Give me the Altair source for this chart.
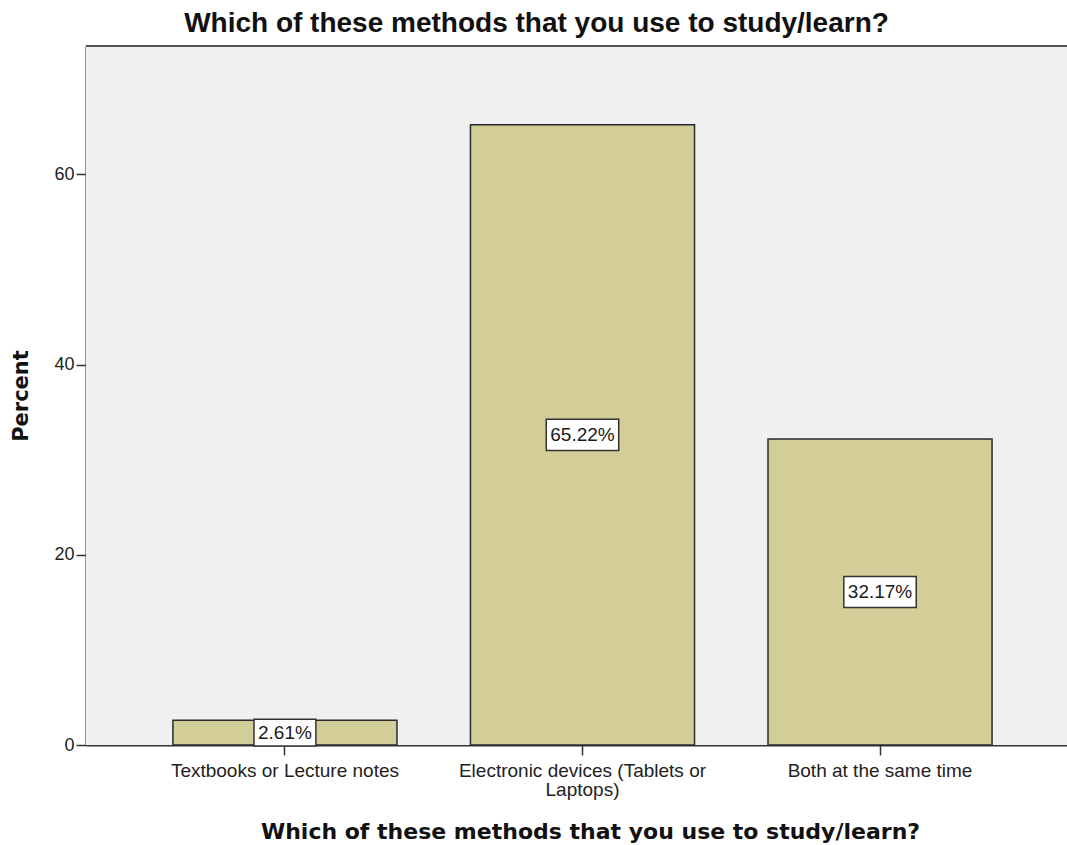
import altair as alt
import pandas as pd

categories = ["Textbooks or Lecture notes", "Electronic devices (Tablets or Laptops)", "Both at the same time"]
percents = [2.61, 65.22, 32.17]
y_ticks = [0, 20, 40, 60]

df = pd.DataFrame({"method": categories, "pct": percents})

TITLE = "Which of these methods that you use to study/learn?"
W, H = 981, 699

x_enc = alt.X(
    "method:N",
    sort=categories,
    scale=alt.Scale(paddingInner=0.247, paddingOuter=0.272, align=0.537),
    axis=alt.Axis(
        title=TITLE,
        titleFont="DejaVu Sans",
        titleFontWeight="bold",
        titleFontSize=22,
        titleColor="#111",
        titlePadding=22,
        titleX=504,
        labelAngle=0,
        labelFont="Liberation Sans",
        labelFontSize=19,
        labelColor="#222",
        labelPadding=6,
        labelLineHeight=19,
        labelLimit=400,
        labelExpr="datum.value == 'Electronic devices (Tablets or Laptops)' ? ['Electronic devices (Tablets or', 'Laptops)'] : datum.label",
        tickSize=10,
        tickColor="#333",
        tickWidth=1.5,
        domainColor="#333",
        domainWidth=2,
    ),
)

y_scale = alt.Scale(domain=[0, 73.5], nice=False)

bg = alt.Chart(df).mark_rect(color="#F0F0F0").encode(
    x=alt.value(0), x2=alt.value(W), y=alt.value(0), y2=alt.value(H)
)

bars = alt.Chart(df).mark_bar(
    fill="#D3CE97", stroke="#2b2b2b", strokeWidth=1.5
).encode(
    x=x_enc,
    y=alt.Y(
        "pct:Q",
        scale=y_scale,
        axis=alt.Axis(
            title="Percent",
            titleFont="DejaVu Sans",
            titleFontWeight="bold",
            titleFontSize=21,
            titleColor="#111",
            titlePadding=22,
            values=y_ticks,
            grid=False,
            labelFont="Liberation Sans",
            labelFontSize=18,
            labelColor="#222",
            labelPadding=2,
            tickSize=10,
            tickColor="#333",
            tickWidth=1.5,
            domainColor="#333",
            domainWidth=2,
        ),
    ),
)

base = alt.Chart(df).transform_calculate(
    mid="datum.pct / 2",
    label="format(datum.pct, '.2f') + '%'",
).transform_calculate(
    boxsize="pow((length(datum.label) - 2) * 10.56 + 30.2, 2)"
)

boxes = base.mark_point(
    shape="M-1,-0.43H1V0.43H-1Z",
    filled=True,
    fill="white",
    stroke="#333",
    strokeWidth=1.5,
    opacity=1,
).encode(
    x=alt.X("method:N", sort=categories),
    y=alt.Y("mid:Q", scale=y_scale),
    size=alt.Size("boxsize:Q", scale=None, legend=None),
)

labels = base.mark_text(
    font="Liberation Sans", fontSize=19, color="#1a1a1a", baseline="middle", align="center"
).encode(
    x=alt.X("method:N", sort=categories),
    y=alt.Y("mid:Q", scale=y_scale),
    text="label:N",
)

top_border = alt.Chart(df).mark_rule(color="#555", strokeWidth=2).encode(
    x=alt.value(0), x2=alt.value(W), y=alt.value(0)
)

chart = alt.layer(bg, bars, boxes, labels, top_border).properties(
    width=W,
    height=H,
    autosize=alt.AutoSizeParams(type="none"),
    padding={"left": 86, "top": 46, "right": 0, "bottom": 100},
    title=alt.TitleParams(
        TITLE,
        font="Liberation Sans",
        fontSize=28,
        fontWeight="bold",
        color="#111",
        anchor="middle",
        dx=-40,
        offset=7,
    ),
).configure(background="white").configure_view(stroke=None)

chart.save("out.html", embed_options={"renderer": "svg", "actions": False})
